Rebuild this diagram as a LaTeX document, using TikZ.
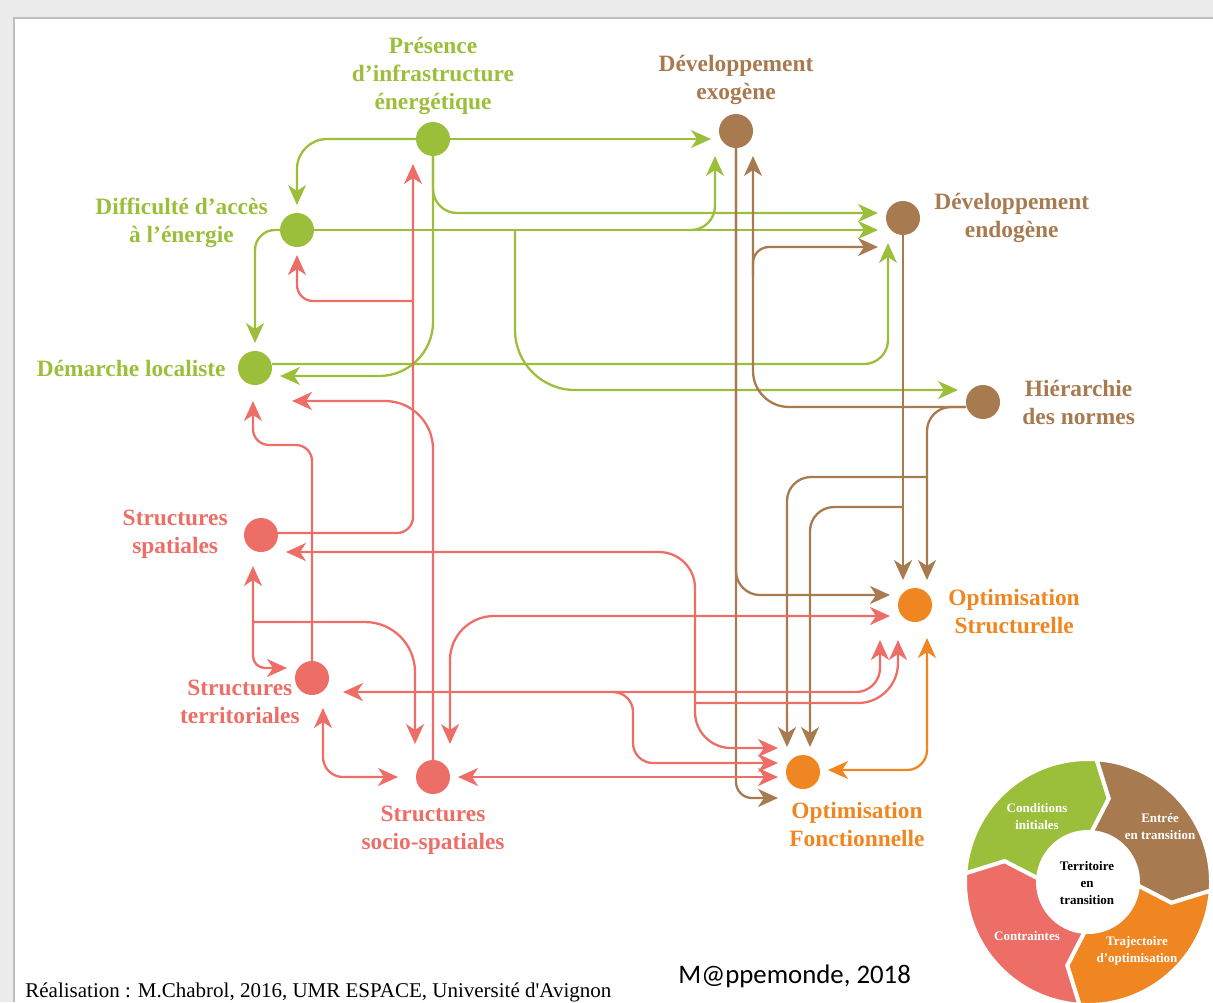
\documentclass[tikz,border=0pt]{standalone}
\usepackage{fontspec}
\setmainfont{Liberation Serif}
\newfontfamily\mappefont{Carlito}
\usepackage{tikz}
\usetikzlibrary{arrows.meta,positioning}
\definecolor{vertc}{RGB}{155,191,59}
\definecolor{brunc}{RGB}{168,122,80}
\definecolor{rougec}{RGB}{237,110,103}
\definecolor{orangec}{RGB}{240,134,34}
\tikzset{
	rond/.style={circle, fill=#1, minimum size=17pt, inner sep=0pt, outer sep=0pt},
	etiq/.style={text=#1, align=center, inner sep=0pt,
		font=\bfseries\fontsize{11.7}{14}\selectfont},
	fleche/.style={draw=#1, line width=1.15pt, shorten >=4pt, ->},
	double_fleche/.style={fleche=#1, shorten <=4pt, <->},
	segment/.style={fill=#1, draw=white, line width=2pt},
	legende/.style={text=white, align=center, inner sep=0pt,
		font=\bfseries\fontsize{6.5}{8.5}\selectfont}
}

\begin{document}
\begin{tikzpicture}[x=0.5pt, y=-0.5pt, >={Stealth[length=10pt,width=9pt,inset=3pt]}]
  \useasboundingbox (0,0) rectangle (1213,1002);
  % cadre
  \fill[black!8] (0,0) rectangle (1213,17);
  \fill[black!8] (0,0) rectangle (13,1002);
  \draw[black!25, line width=0.8pt] (14,1002) -- (14,18) -- (1213,18);

  % points
  \node[rond=vertc]   (pres)  at (433,139) {};
  \node[rond=brunc]   (exo)   at (736,131) {};
  \node[rond=brunc]   (endo)  at (903,218) {};
  \node[rond=brunc]   (hier)  at (983,402) {};
  \node[rond=vertc]   (diff)  at (297,230) {};
  \node[rond=vertc]   (demar) at (255,368) {};
  \node[rond=rougec]  (sspa)  at (261,535) {};
  \node[rond=rougec]  (sterr) at (312,678) {};
  \node[rond=rougec]  (ssoc)  at (433,777) {};
  \node[rond=orangec] (ostr)  at (915,605) {};
  \node[rond=orangec] (ofon)  at (803,772) {};

  % etiquettes
  \node[etiq=vertc, above=3.5pt of pres] (pres_l) {Présence\\d’infrastructure\\énergétique};
  \node[etiq=brunc, above=4.5pt of exo] (exo_l) {Développement\\exogène};
  \node[etiq=brunc, right=7pt of endo] (endo_l) {Développement\\endogène};
  \node[etiq=brunc, right=11pt of hier] (hier_l) {Hiérarchie\\des normes};
  \node[etiq=vertc, left=6pt of diff, yshift=3.5pt] (diff_l) {Difficulté d’accès\\à l’énergie};
  \node[etiq=vertc, left=6pt of demar] (demar_l) {Démarche localiste};
  \node[etiq=rougec, left=8pt of sspa, yshift=0.5pt] (sspa_l) {Structures\\spatiales};
  \node[etiq=rougec, left=-2.5pt of sterr, yshift=-12pt] (sterr_l) {Structures\\territoriales};
  \node[etiq=rougec, below=6pt of ssoc] (ssoc_l) {Structures\\socio-spatiales};
  \node[etiq=orangec, right=8pt of ostr, yshift=-3.5pt] (ostr_l) {Optimisation\\Structurelle};
  \node[etiq=orangec, below=6.5pt of ofon, xshift=27pt] (ofon_l) {Optimisation\\Fonctionnelle};

  % liaisons vertes
  \draw[fleche=vertc] (pres.east) -- (pres.east -| exo.west);
  \draw[fleche=vertc, rounded corners=15pt] (pres.west) -| (diff.north);
  \draw[fleche=vertc, rounded corners=12pt] (pres.south) |- ([yshift=2.5pt]endo.west);
  \draw[fleche=vertc, rounded corners=27pt] (pres.south) |- ([yshift=-4pt]demar.east);
  \draw[fleche=vertc] (diff.east) -- (diff.east -| endo.west);
  \coordinate (jv1) at (688,230);
  \coordinate (jv2) at (515,230);
  \draw[fleche=vertc, rounded corners=12pt] (jv1) -| ([xshift=-10.5pt]exo.south);
  \draw[fleche=vertc, rounded corners=30pt] (jv2) |- ([yshift=6pt]hier.west);
  \draw[fleche=vertc, rounded corners=10pt] (diff.west) -| (demar.north);
  \draw[fleche=vertc, rounded corners=12pt] ([yshift=2pt]demar.east) -| ([xshift=-7.5pt]endo.south);

  % liaisons brunes
  \draw[fleche=brunc, rounded corners=12pt] (exo.south) |- ([yshift=5pt]ostr.west);
  \draw[fleche=brunc, rounded corners=8pt] (exo.south) |- ([yshift=-13pt]ofon.west);
  \draw[fleche=brunc, rounded corners=18pt] ([yshift=-2.5pt]hier.west) -| ([xshift=8.5pt]exo.south);
  \coordinate (jb1) at (753,275);
  \draw[fleche=brunc, rounded corners=8pt] (jb1) |- ([yshift=-14.5pt]endo.west);
  \draw[fleche=brunc, rounded corners=12pt] ([yshift=-2.5pt]hier.west) -| ([xshift=6pt]ostr.north);
  \coordinate (jb2) at (927,477);
  \draw[fleche=brunc, rounded corners=12pt] (jb2) -| ([xshift=-8pt]ofon.north);
  \draw[fleche=brunc] (endo.south) -- (endo.south |- ostr.north);
  \coordinate (jb3) at (903,507);
  \draw[fleche=brunc, rounded corners=12pt] (jb3) -| ([xshift=3.5pt]ofon.north);

  % liaisons rouges
  \draw[fleche=rougec, rounded corners=8pt] ([yshift=1pt]sspa.east) -| ([xshift=-10pt]pres.south);
  \coordinate (jr1) at (413,301);
  \draw[fleche=rougec, rounded corners=8pt] (jr1) -| (diff.south);
  \draw[fleche=rougec, rounded corners=8pt] (sterr.north) -- (312,445) -| ([xshift=-1pt,yshift=-4pt]demar.south);
  \draw[fleche=rougec, rounded corners=24pt] (ssoc.north) |- ([xshift=6pt,yshift=-16.5pt]demar.east);
  \draw[double_fleche=rougec, rounded corners=18pt] ([yshift=-8.5pt]sspa.east) -| (695,748) -- ([yshift=12pt]ofon.west);
  \coordinate (jr2) at (695,703);
  \draw[fleche=rougec, rounded corners=20pt] (jr2) -| ([xshift=-8.5pt,yshift=-5pt]ostr.south);
  \draw[double_fleche=rougec, rounded corners=12pt] ([xshift=3pt,yshift=-7pt]sterr.east) -| ([xshift=-17.5pt,yshift=-5pt]ostr.south);
  \coordinate (jr3) at (612,692);
  \draw[fleche=rougec, rounded corners=10pt] (jr3) -| (633,763) -- ([yshift=4.5pt]ofon.west);
  \draw[double_fleche=rougec] (ssoc.east) -- (ssoc.east -| ofon.west);
  \draw[double_fleche=rougec, rounded corners=6pt] ([xshift=-4pt,yshift=-3pt]sspa.south) |- ([yshift=5pt]sterr.west);
  \coordinate (jr4) at (253,622);
  \draw[fleche=rougec, rounded corners=25pt] (jr4) -| ([xshift=-9pt,yshift=4pt]ssoc.north);
  \draw[double_fleche=rougec, rounded corners=22pt] ([yshift=-5.5pt]ostr.west) -| ([xshift=8.5pt,yshift=4pt]ssoc.north);
  \draw[double_fleche=rougec, rounded corners=10pt] ([xshift=5.5pt,yshift=-2.5pt]sterr.south) |- ([xshift=-5pt]ssoc.west);

  % liaison orange
  \draw[double_fleche=orangec, rounded corners=10pt] ([xshift=6pt,yshift=-4pt]ostr.south) |- ([yshift=1pt]ofon.east);

  % legende
  \begin{scope}
    \clip (0,0) rectangle (1213,1002);
    \begin{scope}[shift={(1088,882)}, x=0.5pt, y=0.5pt]
      \foreach \col/\s in {vertc/176, brunc/86, orangec/-4, rougec/-94} {
        \pgfmathsetmacro\e{\s-90}
        \pgfmathsetmacro\t{\e-10}
        \pgfmathsetmacro\u{\s-10}
        \path[segment=\col] (\s:123) arc[start angle=\s, end angle=\e, radius=123]
          -- (\t:86) -- (\e:50) arc[start angle=\e, end angle=\s, radius=50]
          -- (\u:86) -- cycle;
      }
      \node[legende] (leg_ci) at (-51,65) {Conditions\\initiales};
      \node[legende] (leg_et) at (72,55) {Entrée\\en transition};
      \node[legende] (leg_co) at (-61,-54) {Contraintes};
      \node[legende] (leg_tr) at (49,-69) {Trajectoire\\d’optimisation};
      \node[legende, text=black] (leg_te) at (-1,-1) {Territoire\\en\\transition};
    \end{scope}
  \end{scope}

  % sources
  \node[anchor=base west, inner sep=0pt, font=\fontsize{10.5}{12}\selectfont] (realis) at (25,997)
    {Réalisation : M.Chabrol, 2016, UMR ESPACE, Université d\textquotesingle Avignon};
  \node[anchor=base west, inner sep=0pt, font=\mappefont\fontsize{13.4}{16}\selectfont] (mappe) at (678,983)
    {M@ppemonde, 2018};
\end{tikzpicture}
\end{document}
